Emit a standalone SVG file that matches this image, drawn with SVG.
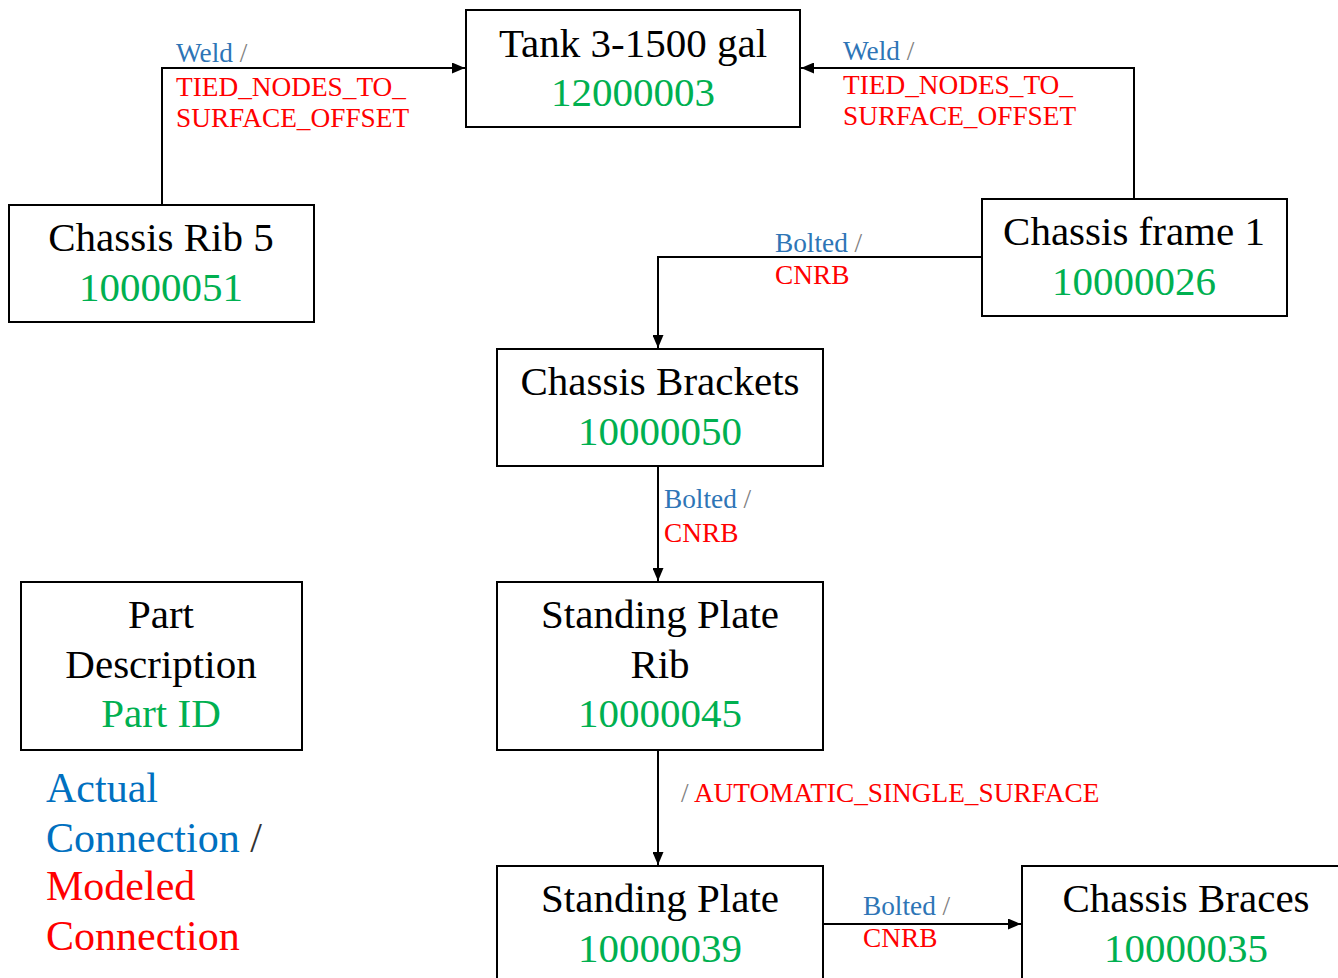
<svg xmlns="http://www.w3.org/2000/svg" width="1338" height="978" viewBox="0 0 1338 978">
<style>
.box{fill:#fff;stroke:#000;stroke-width:2}
.t{font-family:"Liberation Serif","Times New Roman",serif;font-size:41px;fill:#000;text-anchor:middle}
.id{fill:#00b050}
.lb{font-family:"Liberation Serif","Times New Roman",serif;font-size:27.3px}
.bl{fill:#2e75b6}
.rd{fill:#ff0000}
.gr{fill:#7f7f7f}
.lg{font-family:"Liberation Serif","Times New Roman",serif;font-size:42px}
.conn{fill:none;stroke:#000;stroke-width:2}
</style>
<defs>
<marker id="arr" viewBox="0 0 13 11" refX="13" refY="5.5" markerWidth="13" markerHeight="11" markerUnits="userSpaceOnUse" orient="auto">
<path d="M0,0 L13,5.5 L0,11 Z" fill="#000"/>
</marker>
</defs>
<g id="connectors">
<path class="conn" d="M162,205 V68 H465" marker-end="url(#arr)"/>
<path class="conn" d="M1134,199 V68 H801" marker-end="url(#arr)"/>
<path class="conn" d="M982,257 H658 V348" marker-end="url(#arr)"/>
<path class="conn" d="M658,466 V581" marker-end="url(#arr)"/>
<path class="conn" d="M658,750 V865" marker-end="url(#arr)"/>
<path class="conn" d="M823,924 H1021" marker-end="url(#arr)"/>
</g>
<g id="labels">
<text class="lb" x="176" y="62"><tspan class="bl">Weld</tspan><tspan class="gr"> /</tspan></text>
<text class="lb rd" x="176" y="96">TIED_NODES_TO_</text>
<text class="lb rd" x="176" y="127">SURFACE_OFFSET</text>
<text class="lb" x="843" y="60"><tspan class="bl">Weld</tspan><tspan class="gr"> /</tspan></text>
<text class="lb rd" x="843" y="94">TIED_NODES_TO_</text>
<text class="lb rd" x="843" y="125">SURFACE_OFFSET</text>
<text class="lb" x="775" y="252"><tspan class="bl">Bolted</tspan><tspan class="gr"> /</tspan></text>
<text class="lb rd" x="775" y="284">CNRB</text>
<text class="lb" x="664" y="508"><tspan class="bl">Bolted</tspan><tspan class="gr"> /</tspan></text>
<text class="lb rd" x="664" y="542">CNRB</text>
<text class="lb" x="681" y="802"><tspan class="gr">/ </tspan><tspan class="rd">AUTOMATIC_SINGLE_SURFACE</tspan></text>
<text class="lb" x="863" y="915"><tspan class="bl">Bolted</tspan><tspan class="gr"> /</tspan></text>
<text class="lb rd" x="863" y="947">CNRB</text>
</g>
<g id="tank">
<rect class="box" x="466" y="10" width="334" height="117"/>
<text class="t" x="633" y="57">Tank 3-1500 gal</text>
<text class="t id" x="633" y="106">12000003</text>
</g>
<g id="rib5">
<rect class="box" x="9" y="205" width="305" height="117"/>
<text class="t" x="161" y="251">Chassis Rib 5</text>
<text class="t id" x="161" y="301">10000051</text>
</g>
<g id="frame1">
<rect class="box" x="982" y="199" width="305" height="117"/>
<text class="t" x="1134" y="245">Chassis frame 1</text>
<text class="t id" x="1134" y="295">10000026</text>
</g>
<g id="brackets">
<rect class="box" x="497" y="349" width="326" height="117"/>
<text class="t" x="660" y="395">Chassis Brackets</text>
<text class="t id" x="660" y="445">10000050</text>
</g>
<g id="spr">
<rect class="box" x="497" y="582" width="326" height="168"/>
<text class="t" x="660" y="628">Standing Plate</text>
<text class="t" x="660" y="678">Rib</text>
<text class="t id" x="660" y="727">10000045</text>
</g>
<g id="sp">
<rect class="box" x="497" y="866" width="326" height="130"/>
<text class="t" x="660" y="912">Standing Plate</text>
<text class="t id" x="660" y="962">10000039</text>
</g>
<g id="braces">
<rect class="box" x="1022" y="866" width="328" height="130"/>
<text class="t" x="1186" y="912">Chassis Braces</text>
<text class="t id" x="1186" y="962">10000035</text>
</g>
<g id="legend">
<rect class="box" x="21" y="582" width="281" height="168"/>
<text class="t" x="161" y="628">Part</text>
<text class="t" x="161" y="678">Description</text>
<text class="t id" x="161" y="727">Part ID</text>
<text class="lg" x="46" y="802" fill="#0070c0">Actual</text>
<text class="lg" x="46" y="852"><tspan fill="#0070c0">Connection</tspan><tspan fill="#333"> /</tspan></text>
<text class="lg" x="46" y="900" fill="#ff0000">Modeled</text>
<text class="lg" x="46" y="950" fill="#ff0000">Connection</text>
</g>
</svg>
